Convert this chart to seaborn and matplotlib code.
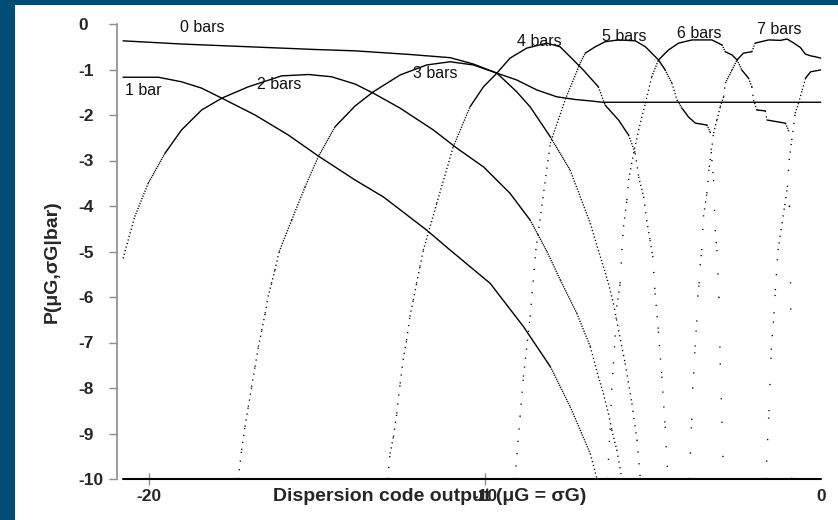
import numpy as np
import matplotlib
matplotlib.use("Agg")
import matplotlib.pyplot as plt
from matplotlib import font_manager
from matplotlib.patches import Rectangle
import seaborn as sns

# ---- log10 P(muG, sigmaG | bar) against dispersion code output ----
BARS0_X = [-20.77, -19.03, -17.04, -15.06, -13.86, -12.23, -11.03, -10.34, -9.64,
           -9.05, -8.45, -7.86, -7.30, -6.86, -6.50, 0.0]
BARS0_Y = [-0.37, -0.44, -0.50, -0.56, -0.59, -0.67, -0.74, -0.88, -1.08,
           -1.23, -1.45, -1.60, -1.66, -1.69, -1.72, -1.72]

BARS1_X = [-20.77, -19.72, -19.03, -18.43, -17.83, -16.84, -15.85, -14.96, -13.86,
           -13.02, -11.73, -11.03, -9.84, -8.85, -8.05, -7.46, -6.86, -6.66]
BARS1_Y = [-1.17, -1.17, -1.27, -1.41, -1.63, -2.00, -2.44, -2.90, -3.43,
           -3.80, -4.53, -4.97, -5.70, -6.65, -7.53, -8.41, -9.44, -10.0]

BARS2_X = [-20.77, -20.42, -20.02, -19.52, -19.03, -18.43, -17.83, -17.04, -16.05,
           -15.25, -14.56, -13.86, -13.32, -12.52, -11.53, -10.83, -10.04, -9.25,
           -8.65, -8.15, -7.75, -7.26, -6.86, -6.62, -6.47, -6.32, -6.22, -6.07, -5.92]
BARS2_Y = [-5.15, -4.23, -3.50, -2.84, -2.33, -1.89, -1.63, -1.38, -1.14,
           -1.11, -1.16, -1.32, -1.52, -1.85, -2.33, -2.73, -3.14, -3.72,
           -4.31, -5.00, -5.63, -6.36, -7.09, -7.75, -8.12, -8.56, -8.92, -9.36, -10.0]

BARS3_X = [-17.34, -17.24, -17.14, -17.04, -16.94, -16.84, -16.74, -16.64, -16.54,
           -16.45, -16.35, -16.25, -16.12, -15.75, -15.35, -14.96, -14.46, -13.86,
           -13.32, -12.52, -11.73, -11.03, -10.34, -9.64, -9.05, -8.65, -8.05, -7.46,
           -6.86, -6.62, -6.47, -6.32, -6.17, -6.02, -5.82, -5.62, -5.47, -5.37]
BARS3_Y = [-10.0, -9.36, -8.85, -8.41, -7.97, -7.53, -7.09, -6.73, -6.36,
           -5.99, -5.70, -5.41, -5.00, -4.31, -3.58, -2.92, -2.26, -1.80,
           -1.49, -1.12, -0.90, -0.83, -0.90, -1.08, -1.49, -1.82, -2.48, -3.21,
           -4.38, -4.97, -5.33, -5.70, -6.14, -6.73, -7.46, -8.34, -9.14, -10.0]

BARS4_X = [-12.89, -12.82, -12.72, -12.62, -12.52, -12.43, -12.33, -12.23, -12.13,
           -12.03, -11.93, -11.83, -11.43, -10.94, -10.44, -10.04, -9.64, -9.25,
           -8.75, -8.15, -7.76, -7.46, -7.07, -6.62, -6.42, -6.02, -5.72, -5.52,
           -5.42, -5.27, -5.18, -5.08, -5.00, -4.93, -4.83, -4.73, -4.63, -4.55]
BARS4_Y = [-10.0, -9.44, -9.07, -8.56, -7.90, -7.38, -6.95, -6.43, -6.07,
           -5.70, -5.33, -4.97, -3.94, -2.70, -1.82, -1.38, -1.08, -0.75,
           -0.53, -0.42, -0.50, -0.72, -1.01, -1.38, -1.78, -2.11, -2.44, -2.84,
           -3.36, -3.80, -4.31, -4.75, -5.10, -5.92, -6.76, -7.75, -8.85, -10.0]

BARS5_X = [-9.10, -8.95, -8.85, -8.65, -8.48, -8.05, -7.60, -7.16, -7.01, -6.71,
           -6.42, -6.02, -5.52, -5.22, -5.03, -4.83, -4.63, -4.43, -4.28, -4.13,
           -3.94, -3.73, -3.39, -3.29, -3.24, -3.19, -3.14, -3.09, -3.03, -2.99,
           -2.94, -2.89]
BARS5_Y = [-10.0, -8.63, -7.75, -6.43, -4.97, -2.62, -1.65, -0.86, -0.64, -0.50,
           -0.39, -0.35, -0.37, -0.50, -0.64, -0.79, -1.01, -1.30, -1.67, -1.85,
           -2.04, -2.18, -2.22, -2.37, -2.99, -3.43, -4.53, -4.97, -6.00, -7.46,
           -8.74, -10.0]

BARS6_X = [-6.34, -6.32, -6.27, -6.22, -6.17, -6.12, -6.07, -5.97, -5.92, -5.87,
           -5.77, -5.72, -5.57, -5.42, -5.22, -5.03, -4.83, -4.53, -4.23, -3.83,
           -3.24, -2.94, -2.84, -2.64, -2.49, -2.35, -2.15, -2.05, -2.00, -1.90,
           -1.65, -1.60, -1.05, -0.96, -0.93, -0.89, -0.86]
BARS6_Y = [-10.0, -9.58, -8.92, -8.04, -7.46, -6.87, -6.21, -5.70, -4.97, -4.45,
           -3.87, -3.43, -2.84, -2.33, -1.74, -1.16, -0.79, -0.57, -0.42, -0.35,
           -0.35, -0.46, -0.61, -0.68, -0.79, -1.01, -1.19, -1.38, -1.67, -1.89,
           -1.91, -2.11, -2.18, -2.33, -4.00, -6.25, -10.0]

BARS7_X = [-3.91, -3.88, -3.84, -3.81, -3.78, -3.74, -3.69, -3.66, -3.62, -3.59,
           -3.54, -3.49, -3.39, -3.32, -3.26, -3.19, -3.09, -2.99, -2.89, -2.84,
           -2.64, -2.49, -2.30, -2.05, -1.95, -1.55, -1.20, -1.00, -0.80, -0.60,
           -0.46, -0.30, -0.16, 0.0]
BARS7_Y = [-10.0, -9.44, -8.70, -8.01, -7.68, -7.09, -6.54, -5.99, -5.70, -5.30,
           -4.97, -4.23, -3.72, -3.14, -2.84, -2.40, -2.11, -1.82, -1.60, -1.30,
           -1.01, -0.79, -0.64, -0.61, -0.42, -0.35, -0.36, -0.33, -0.42, -0.52,
           -0.66, -0.70, -0.72, -0.75]

BARS8_X = [-1.64, -1.61, -1.54, -1.47, -1.39, -1.35, -1.27, -1.15, -1.07, -0.99,
           -0.94, -0.86, -0.76, -0.66, -0.55, -0.45, -0.30, 0.0]
BARS8_Y = [-10.0, -9.62, -8.51, -7.16, -6.36, -5.85, -4.97, -4.38, -3.98, -3.58,
           -2.99, -2.55, -1.96, -1.74, -1.45, -1.19, -1.05, -1.01]

CURVES = [(BARS0_X, BARS0_Y), (BARS1_X, BARS1_Y), (BARS2_X, BARS2_Y),
          (BARS3_X, BARS3_Y), (BARS4_X, BARS4_Y), (BARS5_X, BARS5_Y),
          (BARS6_X, BARS6_Y), (BARS7_X, BARS7_Y), (BARS8_X, BARS8_Y)]

# values below the plotted range sit on the -10 floor
FLOOR_X = [-20.77, 0.0]
FLOOR_Y = [-10.0, -10.0]

LABELS = ["0 bars", "1 bar", "2 bars", "3 bars", "4 bars", "5 bars", "6 bars", "7 bars"]
LABEL_X = [-19.08, -20.71, -16.78, -12.14, -9.04, -6.51, -4.27, -1.89]
LABEL_Y = [-0.17, -1.56, -1.43, -1.18, -0.48, -0.37, -0.31, -0.23]

X_TICKS = [-20, -10, 0]
X_TICK_LABELS = ["-20", "-10", "0"]
Y_TICKS = [0, -1, -2, -3, -4, -5, -6, -7, -8, -9, -10]
Y_TICK_LABELS = ["0", "-1", "-2", "-3", "-4", "-5", "-6", "-7", "-8", "-9", "-10"]

X_LABEL = "Dispersion code output (\u03bcG = \u03c3G)"
Y_LABEL = "P(\u03bcG,\u03c3G|bar)"

# ---- style ----
BLUE = "#014d78"
GRAY = "#8c8c8c"
LW = 1.0

sns.set_style("white")
plt.rcParams["font.family"] = ["Liberation Sans", "DejaVu Sans"]
plt.rcParams["lines.scale_dashes"] = False

_names = {f.name for f in font_manager.fontManager.ttflist}
TICK_FAMILY = "Liberation Sans Narrow" if "Liberation Sans Narrow" in _names else "Liberation Sans"

W, H, DPI = 838, 520, 100
fig = plt.figure(figsize=(W / DPI, H / DPI), dpi=DPI)
fig.patch.set_facecolor("white")

AX_L, AX_R, AX_T, AX_B = 117.0, 820.7, 24.0, 479.0
ax = fig.add_axes([AX_L / W, 1 - AX_B / H, (AX_R - AX_L) / W, (AX_B - AX_T) / H])
ax.set_xlim(-20.95, 0)
ax.set_ylim(-10, 0)
ax.autoscale(False)
ax.set_facecolor("white")

PX2PT = 72.0 / DPI


def draw_curve(xs, ys):
    """Draw a sampled curve: shallow stretches solid, steep stretches as
    sparse dots, spaced like one sample per screen column."""
    pts = ax.transData.transform(np.column_stack([xs, ys]))
    run_x, run_y = [xs[0]], [ys[0]]

    def flush():
        if len(run_x) > 1:
            sns.lineplot(x=list(run_x), y=list(run_y), ax=ax, color="black",
                         lw=LW, sort=False, estimator=None, clip_on=False)

    for i in range(len(xs) - 1):
        dx = abs(pts[i + 1, 0] - pts[i, 0])
        dy = abs(pts[i + 1, 1] - pts[i, 1])
        step = np.hypot(dx, dy) / max(dx, 0.05)
        if step < 1.8:
            run_x.append(xs[i + 1])
            run_y.append(ys[i + 1])
        else:
            flush()
            on = 1.2
            off = step - on
            sns.lineplot(x=[xs[i], xs[i + 1]], y=[ys[i], ys[i + 1]], ax=ax,
                         color="black", lw=LW, sort=False, estimator=None,
                         clip_on=False,
                         linestyle=(0, (on * PX2PT, off * PX2PT)))
            run_x[:] = [xs[i + 1]]
            run_y[:] = [ys[i + 1]]
    flush()


for cx, cy in CURVES:
    draw_curve(cx, cy)

sns.lineplot(x=FLOOR_X, y=FLOOR_Y, ax=ax, color="black", lw=1.5,
             sort=False, estimator=None, clip_on=False)

for text, tx, ty in zip(LABELS, LABEL_X, LABEL_Y):
    ax.text(tx, ty, text, fontsize=11.5, ha="left", va="baseline",
            color="#111111", clip_on=False)

# ---- axes ----
for side in ("top", "right", "bottom"):
    ax.spines[side].set_visible(False)
ax.spines["left"].set_color(GRAY)
ax.spines["left"].set_linewidth(1.2)

ax.set_xticks(X_TICKS, X_TICK_LABELS)
ax.set_yticks(Y_TICKS, Y_TICK_LABELS)
ax.tick_params(axis="y", left=True, direction="out", length=5.5, width=1.0,
               color=GRAY, pad=22.4, labelsize=12.5)
ax.tick_params(axis="x", bottom=True, direction="inout", length=8.6, width=1.0,
               color=GRAY, pad=2.9, labelsize=12.5)
ax.xaxis.get_major_ticks()[2].tick1line.set_visible(False)
for lab in ax.get_yticklabels() + ax.get_xticklabels():
    lab.set_fontfamily(TICK_FAMILY)
    lab.set_fontweight("bold")
for lab in ax.get_yticklabels():
    lab.set_horizontalalignment("left")

ax.set_xlabel(X_LABEL, fontsize=14, fontweight="bold")
ax.xaxis.set_label_coords(0.445, -0.019)
ax.xaxis.label.set_verticalalignment("top")
ax.set_ylabel(Y_LABEL, fontsize=14, fontweight="bold")
ax.yaxis.set_label_coords(-0.0915, 0.477)
ax.yaxis.label.set_verticalalignment("center")

# ---- frame bands ----
fig.patches.append(Rectangle((0, 1 - 5 / H), 1, 5 / H, transform=fig.transFigure,
                             facecolor=BLUE, edgecolor="none", zorder=10))
fig.patches.append(Rectangle((0, 0), 15 / W, 1, transform=fig.transFigure,
                             facecolor=BLUE, edgecolor="none", zorder=10))

fig.savefig("out.png", dpi=DPI, facecolor="white")
